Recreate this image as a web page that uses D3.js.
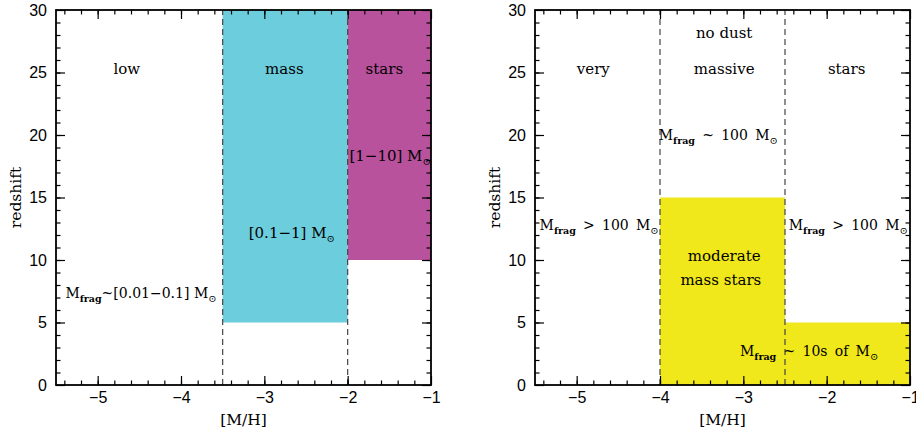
<!DOCTYPE html>
<html>
  <head>
    <meta http-equiv="Content-Type" content="text/html;charset=utf-8"/>
    <script src="https://cdn.jsdelivr.net/npm/d3@7"></script>
    <style type="text/css">
    body { margin: 0; background: #fff; }
    .tick text { font-family: "Liberation Sans", Arial, sans-serif; font-size: 16px; fill: #000; }
    .tick line { stroke: #000; stroke-width: 1.2px; }
    .note { font-family: "DejaVu Serif", serif; font-size: 15px; fill: #000; white-space: pre; }
    .note.mass-label { font-size: 14px; }
    .axis-title { font-family: "DejaVu Serif", serif; font-size: 15.5px; fill: #000; }
    .frame { fill: none; stroke: #000; stroke-width: 1.8px; }
    .divider { stroke: #444; stroke-width: 1.2px; stroke-dasharray: 6,4; }
    </style>
  </head>
  <body>
    <script type="text/javascript">
    // axis ranges and ticks
    var xDomain = [-5.5, -1];
    var yDomain = [0, 30];
    var xMajor = [-5, -4, -3, -2, -1];
    var yMajor = [0, 5, 10, 15, 20, 25, 30];
    var xMinor = d3.range(-5.4, -1.01, 0.2);
    var yMinor = d3.range(1, 30, 1);

    // left panel: shaded regimes [x0, x1, y0, y1]
    var leftBoxes = [[-3.5, -2, 5, 30], [-2, -1, 10, 30]];
    var leftColors = ["#6ccddc", "#b9529d"];
    var leftDividers = [-3.5, -2];
    var leftNotes = [
      [-4.65, 25.3, "low"],
      [-2.76, 25.3, "mass"],
      [-1.56, 25.3, "stars"],
      [-1.49, 18.3, "[1\u221210] M_{\u2299}"],
      [-2.67, 12.2, "[0.1\u22121] M_{\u2299}"],
      [-4.48, 7.4, "M_{frag}~[0.01\u22120.1] M_{\u2299}"]
    ];

    // right panel
    var rightBoxes = [[-4, -2.5, 0, 15], [-2.5, -1, 0, 5]];
    var rightColors = ["#f0e81a", "#f0e81a"];
    var rightDividers = [-4, -2.5];
    var gap = " \u2009";
    var rightNotes = [
      [-3.23, 28.2, "no dust"],
      [-4.8, 25.3, "very"],
      [-3.23, 25.3, "massive"],
      [-1.76, 25.3, "stars"],
      [-3.3, 20.0, "M_{frag}" + gap + "~" + gap + "100" + gap + "M_{\u2299}"],
      [-4.73, 12.8, "M_{frag}" + gap + ">" + gap + "100" + gap + "M_{\u2299}"],
      [-1.74, 12.8, "M_{frag}" + gap + ">" + gap + "100" + gap + "M_{\u2299}"],
      [-3.23, 10.3, "moderate"],
      [-3.27, 8.4, "mass stars"],
      [-2.21, 2.7, "M_{frag}" + gap + "~" + gap + "10s" + gap + "of" + gap + "M_{\u2299}"]
    ];

    var width = 916, height = 432;
    var plotTop = 10, plotBottom = 385, plotWidth = 375;
    var svg = d3.select("body").append("svg")
        .attr("width", width)
        .attr("height", height);

    function fmt(d) { return d3.format("d")(d).replace("-", "\u2212"); }

    // text with _{...} parts set as subscripts
    function addNote(g, x, y, str) {
      var t = g.append("text").classed("note", true)
          .classed("mass-label", str.indexOf("_{frag}") >= 0)
          .attr("x", x).attr("y", y + 5)
          .attr("text-anchor", "middle");
      var parts = str.split(/_\{([^}]*)\}/);
      var shifted = false;
      parts.forEach(function(p, i) {
        if (p === "") return;
        var sp = t.append("tspan").text(p);
        if (i % 2 === 1) {
          sp.attr("dy", 4)
            .style("font-size", p === "frag" ? "9.5px" : "10px")
            .style("font-weight", p === "frag" ? "bold" : "normal");
          shifted = true;
        } else if (shifted) {
          sp.attr("dy", -4);
          shifted = false;
        }
      });
    }

    function panel(left, boxes, colors, dividers, notes) {
      var x = d3.scaleLinear().domain(xDomain).range([left, left + plotWidth]);
      var y = d3.scaleLinear().domain(yDomain).range([plotBottom, plotTop]);
      var g = svg.append("g");

      g.selectAll("rect.box").data(boxes).enter().append("rect")
          .attr("x", function(d) { return x(d[0]); })
          .attr("y", function(d) { return y(d[3]); })
          .attr("width", function(d) { return x(d[1]) - x(d[0]); })
          .attr("height", function(d) { return y(d[2]) - y(d[3]); })
          .attr("fill", function(d, i) { return colors[i]; });

      g.selectAll("line.divider").data(dividers).enter().append("line")
          .classed("divider", true)
          .attr("x1", function(d) { return x(d); })
          .attr("x2", function(d) { return x(d); })
          .attr("y1", y(0)).attr("y2", y(30));

      // major + minor ticks on all four sides, pointing inward
      var bt = "translate(0," + plotBottom + ")";
      var tt = "translate(0," + plotTop + ")";
      var lt = "translate(" + left + ",0)";
      var rt = "translate(" + (left + plotWidth) + ",0)";
      var axes = [
        [d3.axisBottom(x).tickValues(xMajor).tickSize(-9).tickPadding(7).tickFormat(fmt), bt],
        [d3.axisBottom(x).tickValues(xMinor).tickSize(-4.5).tickFormat(""), bt],
        [d3.axisTop(x).tickValues(xMajor).tickSize(-9).tickFormat(""), tt],
        [d3.axisTop(x).tickValues(xMinor).tickSize(-4.5).tickFormat(""), tt],
        [d3.axisLeft(y).tickValues(yMajor).tickSize(-9).tickPadding(9).tickFormat(fmt), lt],
        [d3.axisLeft(y).tickValues(yMinor).tickSize(-4.5).tickFormat(""), lt],
        [d3.axisRight(y).tickValues(yMajor).tickSize(-9).tickFormat(""), rt],
        [d3.axisRight(y).tickValues(yMinor).tickSize(-4.5).tickFormat(""), rt]
      ];
      axes.forEach(function(a) {
        var ax = g.append("g").attr("transform", a[1]).call(a[0]);
        ax.select(".domain").remove();
        ax.attr("font-family", null).attr("font-size", null);
      });

      g.append("rect").classed("frame", true)
          .attr("x", left).attr("y", plotTop)
          .attr("width", plotWidth).attr("height", plotBottom - plotTop);

      notes.forEach(function(n) { addNote(g, x(n[0]), y(n[1]), n[2]); });

      g.append("text").classed("axis-title", true)
          .attr("x", left + plotWidth / 2).attr("y", 425)
          .attr("text-anchor", "middle")
          .text("[M/H]");
      g.append("text").classed("axis-title", true)
          .attr("transform", "translate(" + (left - 35) + "," + ((plotTop + plotBottom) / 2) + ") rotate(-90)")
          .attr("text-anchor", "middle")
          .text("redshift");
    }

    panel(56, leftBoxes, leftColors, leftDividers, leftNotes);
    panel(535, rightBoxes, rightColors, rightDividers, rightNotes);
    </script>
  </body>
</html>
